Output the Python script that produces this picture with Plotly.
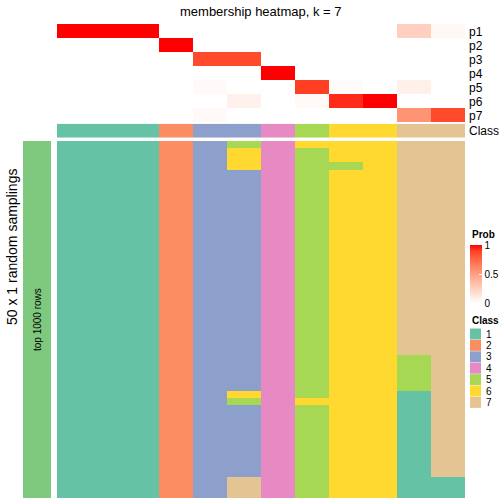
import plotly.graph_objects as go

W = H = 504
FONT = "Liberation Sans, Arial, sans-serif"

title_text = "membership heatmap, k = 7"
prob_rows = ["p1", "p2", "p3", "p4", "p5", "p6", "p7"]
n_samples = 12

p1 = [1, 1, 1, 0, 0, 0, 0, 0, 0, 0, 0.25, 0.04]
p2 = [0, 0, 0, 1, 0, 0, 0, 0, 0, 0, 0, 0]
p3 = [0, 0, 0, 0, 0.86, 0.86, 0, 0, 0, 0, 0, 0]
p4 = [0, 0, 0, 0, 0, 0, 1, 0, 0, 0, 0, 0]
p5 = [0, 0, 0, 0, 0.03, 0, 0, 0.9, 0.02, 0, 0.08, 0]
p6 = [0, 0, 0, 0, 0, 0.07, 0, 0.03, 0.93, 1, 0, 0]
p7 = [0, 0, 0, 0, 0.03, 0, 0, 0, 0, 0, 0.55, 0.86]

class_row = [1, 1, 1, 2, 3, 3, 4, 5, 6, 6, 7, 7]

# membership per sampling (50 rows) for each of the 12 samples
col1 = [1] * 50
col2 = [1] * 50
col3 = [1] * 50
col4 = [2] * 50
col5 = [3] * 50
col6 = [5] + [6] * 3 + [3] * 31 + [6] + [5] + [3] * 10 + [7] * 3
col7 = [4] * 50
col8 = [6] + [5] * 35 + [6] + [5] * 13
col9 = [6] * 3 + [5] + [6] * 46
col10 = [6] * 50
col11 = [7] * 30 + [5] * 5 + [1] * 15
col12 = [7] * 47 + [1] * 3

class_labels = ["1", "2", "3", "4", "5", "6", "7"]
class_colors = ["#66C2A5", "#FC8D62", "#8DA0CB", "#E78AC3", "#A6D854", "#FFD92F", "#E5C494"]

left_label = "top 1000 rows"
side_label = "50 x 1 random samplings"


# ---- white -> red colour ramp interpolated in LAB space ----
def _lin(c):
    c = c / 255.0
    return c / 12.92 if c <= 0.04045 else ((c + 0.055) / 1.055) ** 2.4


def _unlin(c):
    v = 12.92 * c if c <= 0.0031308 else 1.055 * c ** (1 / 2.4) - 0.055
    return max(0, min(255, round(v * 255)))


def rgb2lab(rgb):
    r, g, b = [_lin(v) for v in rgb]
    X = (0.4124 * r + 0.3576 * g + 0.1805 * b) / 0.95047
    Y = (0.2126 * r + 0.7152 * g + 0.0722 * b)
    Z = (0.0193 * r + 0.1192 * g + 0.9505 * b) / 1.08883
    f = lambda t: t ** (1 / 3) if t > 0.008856 else 7.787 * t + 16 / 116
    fx, fy, fz = f(X), f(Y), f(Z)
    return 116 * fy - 16, 500 * (fx - fy), 200 * (fy - fz)


def lab2rgb(lab):
    L, a, b = lab
    fy = (L + 16) / 116
    fx = fy + a / 500
    fz = fy - b / 200
    fi = lambda t: t ** 3 if t ** 3 > 0.008856 else (t - 16 / 116) / 7.787
    X, Y, Z = fi(fx) * 0.95047, fi(fy), fi(fz) * 1.08883
    r = 3.2406 * X - 1.5372 * Y - 0.4986 * Z
    g = -0.9689 * X + 1.8758 * Y + 0.0415 * Z
    bb = 0.0557 * X - 0.2040 * Y + 1.0570 * Z
    return tuple(_unlin(max(0, v)) for v in (r, g, bb))


lw, lr = rgb2lab((255, 255, 255)), rgb2lab((255, 0, 0))
prob_scale = []
for i in range(11):
    t = i / 10
    c = lab2rgb(tuple(lw[k] + (lr[k] - lw[k]) * t for k in range(3)))
    prob_scale.append([t, "rgb(%d,%d,%d)" % c])

n_cls = len(class_colors)
class_scale = []
for i, c in enumerate(class_colors):
    class_scale.append([i / n_cls, c])
    class_scale.append([(i + 1) / n_cls, c])


def px_x(x):
    return x / W


def px_y(y):
    return 1 - y / H


fig = go.Figure()

prob_z = [p1, p2, p3, p4, p5, p6, p7]
xs = list(range(n_samples))

fig.add_trace(go.Heatmap(
    z=prob_z, x=xs, y=prob_rows, colorscale=prob_scale, zmin=0, zmax=1,
    xaxis="x", yaxis="y", hoverinfo="skip",
    colorbar=dict(
        x=px_x(470), xanchor="left", y=px_y(245), yanchor="top",
        lenmode="pixels", len=58, thickness=12, thicknessmode="pixels",
        xpad=0, ypad=0, outlinewidth=0,
        tickvals=[0, 0.5, 1], ticktext=["0", "0.5", "1"],
        ticks="inside", tickcolor="white", ticklen=3,
        tickfont=dict(size=10, family=FONT),
    ),
))

fig.add_trace(go.Heatmap(
    z=[class_row], x=xs, y=["Class"], colorscale=class_scale, zmin=0.5, zmax=7.5,
    showscale=False, xaxis="x2", yaxis="y2", hoverinfo="skip",
))

cols = [col1, col2, col3, col4, col5, col6, col7, col8, col9, col10, col11, col12]
main_z = [[cols[j][i] for j in range(n_samples)] for i in range(50)]
fig.add_trace(go.Heatmap(
    z=main_z, x=xs, y=list(range(50)), colorscale=class_scale, zmin=0.5, zmax=7.5,
    showscale=False, xaxis="x3", yaxis="y3", hoverinfo="skip",
))

# left annotation bar
fig.add_trace(go.Heatmap(
    z=[[1]], x=[0], y=[0], colorscale=[[0, "#7FC97F"], [1, "#7FC97F"]],
    showscale=False, xaxis="x4", yaxis="y4", hoverinfo="skip",
))

# class legend swatches
leg_y = [334 + 11.4 * i for i in range(n_cls)]
fig.add_trace(go.Scatter(
    x=[475.5] * n_cls, y=leg_y, mode="markers",
    marker=dict(symbol="square", size=11, color=class_colors, line=dict(width=0)),
    xaxis="x5", yaxis="y5", hoverinfo="skip", showlegend=False,
))

hidden = dict(visible=False, showgrid=False, zeroline=False, fixedrange=True)
fig.update_layout(
    width=W, height=H, margin=dict(l=0, r=0, t=0, b=0),
    paper_bgcolor="white", plot_bgcolor="rgba(0,0,0,0)",
    font=dict(family=FONT, color="black"),
    showlegend=False,
    xaxis=dict(domain=[px_x(57), px_x(465)], range=[-0.5, 11.5], **hidden),
    yaxis=dict(domain=[px_y(122), px_y(24)], autorange="reversed", **hidden),
    xaxis2=dict(domain=[px_x(57), px_x(465)], range=[-0.5, 11.5], anchor="y2", **hidden),
    yaxis2=dict(domain=[px_y(137.7), px_y(123.7)], anchor="x2", **hidden),
    xaxis3=dict(domain=[px_x(57), px_x(465)], range=[-0.5, 11.5], anchor="y3", **hidden),
    yaxis3=dict(domain=[px_y(498), px_y(141)], range=[49.5, -0.5], anchor="x3", **hidden),
    xaxis4=dict(domain=[px_x(23), px_x(51)], range=[-0.5, 0.5], anchor="y4", **hidden),
    yaxis4=dict(domain=[px_y(498), px_y(141)], range=[-0.5, 0.5], anchor="x4", **hidden),
    xaxis5=dict(domain=[0, 1], range=[0, W], anchor="y5", **hidden),
    yaxis5=dict(domain=[0, 1], range=[H, 0], anchor="x5", **hidden),
)

ann = []
ann.append(dict(text=title_text, x=px_x(261), y=px_y(11.5), xref="paper", yref="paper",
                showarrow=False, font=dict(size=13, family=FONT), xanchor="center", yanchor="middle"))
for i, lab in enumerate(prob_rows + ["Class"]):
    yc = 32 + 14 * i if i < 7 else 131.5
    ann.append(dict(text=lab, x=px_x(467), y=px_y(yc), xref="paper", yref="paper",
                    showarrow=False, font=dict(size=12, family=FONT), xanchor="left", yanchor="middle"))
ann.append(dict(text="<b>Prob</b>", x=px_x(470), y=px_y(234), xref="paper", yref="paper",
                showarrow=False, font=dict(size=10, family=FONT), xanchor="left", yanchor="middle"))
ann.append(dict(text="<b>Class</b>", x=px_x(470), y=px_y(320), xref="paper", yref="paper",
                showarrow=False, font=dict(size=10, family=FONT), xanchor="left", yanchor="middle"))
for i, lab in enumerate(class_labels):
    ann.append(dict(text=lab, x=px_x(484), y=px_y(leg_y[i]), xref="paper", yref="paper",
                    showarrow=False, font=dict(size=10, family=FONT), xanchor="left", yanchor="middle"))
ann.append(dict(text=left_label, x=px_x(37), y=px_y(320), xref="paper", yref="paper",
                showarrow=False, textangle=-90, font=dict(size=10, family=FONT),
                xanchor="center", yanchor="middle"))
ann.append(dict(text=side_label, x=px_x(12), y=px_y(247), xref="paper", yref="paper",
                showarrow=False, textangle=-90, font=dict(size=14, family=FONT),
                xanchor="center", yanchor="middle"))
fig.update_layout(annotations=ann)

fig.write_html(
    "out.html",
    config={"displayModeBar": False, "staticPlot": True},
    post_script="document.body.style.margin='0';document.body.style.overflow='hidden';",
)
